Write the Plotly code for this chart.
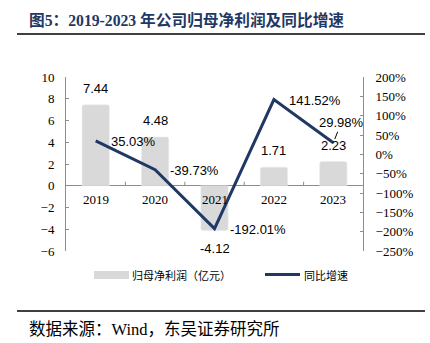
import plotly.graph_objects as go

years = ["2019", "2020", "2021", "2022", "2023"]
profit = [7.44, 4.48, -4.12, 1.71, 2.23]           # 归母净利润（亿元）
growth = [0.3503, -0.3973, -1.9201, 1.4152, 0.2998]  # 同比增速
profit_labels = ["7.44", "4.48", "-4.12", "1.71", "2.23"]
growth_labels = ["35.03%", "-39.73%", "-192.01%", "141.52%", "29.98%"]

W, H = 430, 343
L, R, T, B = 66, 67, 77, 92
pw, ph = W - L - R, H - T - B
y1_range = [-6, 10]
y2_range = [-2.5, 2.0]

def px(x):
    return (x - L) / pw

def py(y):
    return (H - B - y) / ph

NAVY = "#1f3864"
BAR = "#d9d9d9"
AX = "#8c8c8c"
SERIF = "Liberation Serif, Times New Roman, Noto Sans CJK SC, serif"
SANS = "Liberation Sans, Arial, sans-serif"
CJK = "Noto Sans CJK SC, sans-serif"

fig = go.Figure()
fig.add_trace(go.Bar(x=years, y=profit, marker=dict(color=BAR, cornerradius=2),
                     width=0.46, yaxis="y", showlegend=False, hoverinfo="skip"))
fig.add_trace(go.Scatter(x=years, y=growth, mode="lines", yaxis="y2",
                         line=dict(color=NAVY, width=3), showlegend=False))

ann = []
for i, (v, t) in enumerate(zip(profit, profit_labels)):
    ann.append(dict(x=i, y=v, xref="x", yref="y", text=t, showarrow=False,
                    yanchor="bottom" if v >= 0 else "top",
                    yshift=7 if v >= 0 else -8,
                    font=dict(family=SANS, size=13, color="#000")))
for i, (v, t) in enumerate(zip(growth, growth_labels)):
    if i == len(years) - 1:
        ann.append(dict(x=i, y=v, xref="x", yref="y2", text=t, showarrow=True,
                        arrowhead=0, arrowwidth=1, arrowcolor="#000",
                        ax=8, ay=-20, standoff=4,
                        font=dict(family=SANS, size=13, color="#000")))
    else:
        ann.append(dict(x=i, y=v, xref="x", yref="y2", text=t, showarrow=False,
                        xanchor="left", xshift=13, yshift=-1,
                        font=dict(family=SANS, size=13, color="#000")))
# category labels just below the zero line
for i, x in enumerate(years):
    ann.append(dict(x=i, y=0, xref="x", yref="y", text=x, showarrow=False,
                    yanchor="top", yshift=-4,
                    font=dict(family=SERIF, size=13, color="#000")))

# title / footer
ann.append(dict(x=px(27), y=py(20), xref="paper", yref="paper", xanchor="left", yanchor="middle",
                text="<b>图5：2019-2023 年公司归母净利润及同比增速</b>", showarrow=False,
                font=dict(family=SERIF, size=15.7, color="#1f3864")))
ann.append(dict(x=px(27), y=py(329), xref="paper", yref="paper", xanchor="left", yanchor="middle",
                text="数据来源：Wind，东吴证券研究所", showarrow=False,
                font=dict(family=SERIF, size=16.5, color="#000")))
# legend texts
ann.append(dict(x=px(130), y=py(275), xref="paper", yref="paper", xanchor="left", yanchor="middle",
                text="归母净利润（亿元）", showarrow=False,
                font=dict(family=CJK, size=11, color="#000")))
ann.append(dict(x=px(302), y=py(275), xref="paper", yref="paper", xanchor="left", yanchor="middle",
                text="同比增速", showarrow=False,
                font=dict(family=CJK, size=11, color="#000")))

shapes = [
    dict(type="line", xref="paper", yref="paper", x0=px(17), x1=px(425), y0=py(34), y1=py(34),
         line=dict(color="#000", width=1.5)),
    dict(type="line", xref="paper", yref="paper", x0=px(17), x1=px(425), y0=py(311), y1=py(311),
         line=dict(color="#000", width=1.5)),
    dict(type="rect", xref="paper", yref="paper", x0=px(94), x1=px(129), y0=py(279), y1=py(271),
         fillcolor=BAR, line=dict(width=0)),
    dict(type="line", xref="paper", yref="paper", x0=px(265), x1=px(300), y0=py(274.5), y1=py(274.5),
         line=dict(color=NAVY, width=3)),
]
# category-boundary tick marks on the zero line (pointing up)
for i in range(1, len(years)):
    shapes.append(dict(type="line", xref="x", yref="y", x0=i - 0.5, x1=i - 0.5,
                       ysizemode="pixel", yanchor=0, y0=0, y1=4,
                       line=dict(color=AX, width=1)))

fig.update_layout(
    width=W, height=H, margin=dict(l=L, r=R, t=T, b=B),
    paper_bgcolor="white", plot_bgcolor="white",
    annotations=ann, shapes=shapes, showlegend=False,
    xaxis=dict(type="category", range=[-0.5, len(years) - 0.5], showline=False,
               showticklabels=False, ticks="", showgrid=False, zeroline=False),
    yaxis=dict(range=y1_range, dtick=2, showline=True, linecolor=AX, linewidth=1,
               ticks="inside", ticklen=3, tickcolor=AX, showgrid=False,
               zeroline=True, zerolinecolor=AX, zerolinewidth=1, ticklabelstandoff=8,
               tickfont=dict(family=SERIF, size=13, color="#000")),
    yaxis2=dict(range=y2_range, dtick=0.5, tickformat=".0%", overlaying="y", side="right",
                showline=True, linecolor=AX, linewidth=1, ticks="inside", ticklen=3,
                tickcolor=AX, showgrid=False, zeroline=False, ticklabelstandoff=9,
                tickfont=dict(family=SERIF, size=13, color="#000")),
)

fig.write_html("out.html")
